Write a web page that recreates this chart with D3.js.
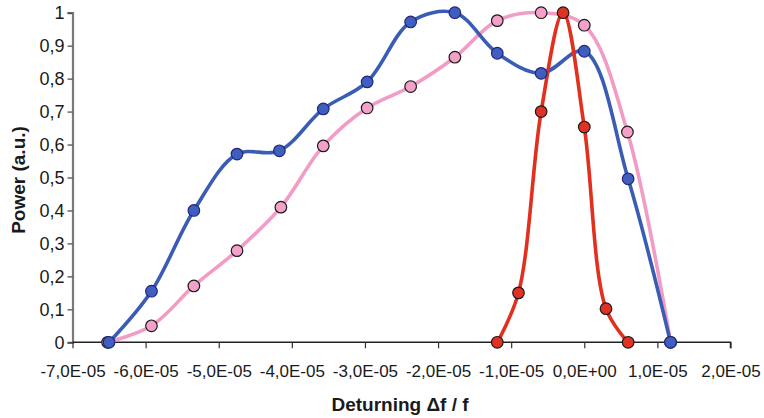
<!DOCTYPE html>
<html>
<head>
<meta charset="utf-8">
<script src="https://cdn.jsdelivr.net/npm/d3@7/dist/d3.min.js"></script>
<style>
  html, body { margin: 0; padding: 0; background: #fff; }
  svg { display: block; }
  text { font-family: "Liberation Sans", Arial, sans-serif; fill: #1a1a1a; }
</style>
</head>
<body>
<svg id="chart" width="764" height="418"></svg>
<script>
// Detuning (Δf / f) sample positions and normalised power for each series
const blueX  = [-6.50e-5, -5.92e-5, -5.34e-5, -4.75e-5, -4.17e-5, -3.57e-5, -2.97e-5, -2.375e-5, -1.77e-5, -1.19e-5, -0.59e-5, 0.0, 0.60e-5, 1.18e-5];
const blueY  = [0.0, 0.155, 0.40, 0.571, 0.581, 0.708, 0.79, 0.972, 1.0, 0.877, 0.816, 0.883, 0.496, 0.0];

const pinkX  = [-6.52e-5, -5.92e-5, -5.34e-5, -4.75e-5, -4.15e-5, -3.57e-5, -2.97e-5, -2.375e-5, -1.77e-5, -1.19e-5, -0.59e-5, 0.0, 0.59e-5, 1.18e-5];
const pinkY  = [0.0, 0.05, 0.171, 0.278, 0.41, 0.596, 0.711, 0.776, 0.865, 0.976, 1.0, 0.962, 0.638, 0.0];

const redX   = [-1.19e-5, -0.90e-5, -0.59e-5, -0.29e-5, 0.0, 0.297e-5, 0.60e-5];
const redY   = [0.0, 0.15, 0.70, 1.0, 0.653, 0.102, 0.0];

const xTicks = [-7e-5, -6e-5, -5e-5, -4e-5, -3e-5, -2e-5, -1e-5, 0, 1e-5, 2e-5];
const xTickLabels = ["-7,0E-05", "-6,0E-05", "-5,0E-05", "-4,0E-05", "-3,0E-05", "-2,0E-05", "-1,0E-05", "0,0E+00", "1,0E-05", "2,0E-05"];
const yTicks = [0, 0.1, 0.2, 0.3, 0.4, 0.5, 0.6, 0.7, 0.8, 0.9, 1];
const yTickLabels = ["0", "0,1", "0,2", "0,3", "0,4", "0,5", "0,6", "0,7", "0,8", "0,9", "1"];

const svg = d3.select("#chart");

const x = d3.scaleLinear().domain([-7e-5, 2e-5]).range([72.5, 730.5]);
const y = d3.scaleLinear().domain([0, 1]).range([342.3, 12.7]);

const FONT = "'Liberation Sans', Arial, sans-serif";

// Y axis
const yAxis = svg.append("g")
  .attr("transform", `translate(${x(-7e-5)},0)`)
  .call(d3.axisLeft(y).tickValues(yTicks)
    .tickFormat((d, i) => yTickLabels[i]).tickSize(5).tickPadding(3));
yAxis.select(".domain").attr("stroke", "#7a7a7a").attr("stroke-width", 2.2);
yAxis.selectAll(".tick line").attr("stroke", "#444").attr("stroke-width", 1.2);
yAxis.selectAll(".tick text")
  .style("font-size", "18px").style("font-family", FONT).style("fill", "#1a1a1a");

// X axis
const xAxis = svg.append("g")
  .attr("transform", `translate(0,${y(0)})`)
  .call(d3.axisBottom(x).tickValues(xTicks)
    .tickFormat((d, i) => xTickLabels[i]).tickSize(6).tickPadding(17));
xAxis.select(".domain").attr("stroke", "#222").attr("stroke-width", 1.5)
  .attr("d", `M${x(-7e-5)},0H${x(2e-5)}V6`);
xAxis.selectAll(".tick line").attr("stroke", "#333").attr("stroke-width", 1.2);
xAxis.selectAll(".tick text")
  .style("font-size", "17px").style("font-family", FONT).style("fill", "#1a1a1a");

// Axis titles
svg.append("text")
  .attr("x", 400).attr("y", 411)
  .attr("text-anchor", "middle")
  .style("font-size", "19px").style("font-weight", "bold").style("font-family", FONT)
  .text("Deturning \u0394f / f");

svg.append("text")
  .attr("transform", "translate(25,180) rotate(-90)")
  .attr("text-anchor", "middle")
  .style("font-size", "19px").style("font-weight", "bold").style("font-family", FONT)
  .text("Power (a.u.)");

const line = d3.line()
  .x(d => x(d[0])).y(d => y(d[1]))
  .curve(d3.curveCatmullRom.alpha(0.5));

const series = [
  { xs: pinkX, ys: pinkY, line: "#f29cc5", fill: "#f4a1c9", stroke: "#1a1a1a" },
  { xs: blueX, ys: blueY, line: "#3a5cb4", fill: "#3e5ec0", stroke: "#22267a" },
  { xs: redX,  ys: redY,  line: "#e2301f", fill: "#e03224", stroke: "#1a1a1a" }
];

// Lines first, so every marker sits on top
series.forEach(s => {
  const pts = s.xs.map((v, i) => [v, s.ys[i]]);
  svg.append("path").datum(pts)
    .attr("d", line)
    .attr("fill", "none")
    .attr("stroke", s.line)
    .attr("stroke-width", 3.6)
    .attr("stroke-linejoin", "round")
    .attr("stroke-linecap", "round");
});

series.forEach(s => {
  const pts = s.xs.map((v, i) => [v, s.ys[i]]);
  svg.append("g").selectAll("circle").data(pts).join("circle")
    .attr("cx", d => x(d[0])).attr("cy", d => y(d[1]))
    .attr("r", 5.8)
    .attr("fill", s.fill)
    .attr("stroke", s.stroke)
    .attr("stroke-width", 1.2);
});
</script>
</body>
</html>
